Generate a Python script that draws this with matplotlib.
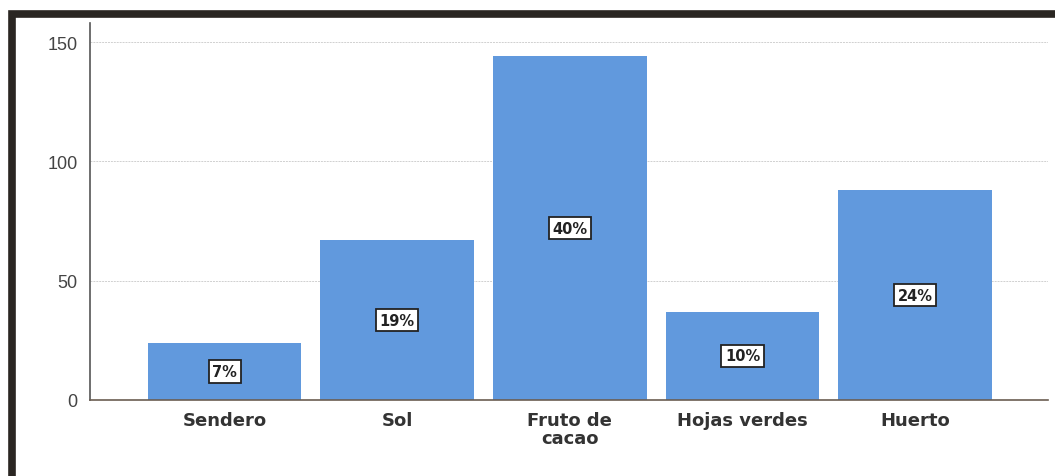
import matplotlib.pyplot as plt
from matplotlib.patches import Rectangle

categories = ["Sendero", "Sol", "Fruto de\ncacao", "Hojas verdes", "Huerto"]
counts = [24, 67, 144, 37, 88]
percent_labels = ["7%", "19%", "40%", "10%", "24%"]

plt.rcParams['font.family'] = ['DejaVu Sans']

fig = plt.figure(figsize=(10.55, 4.77), dpi=100)
fig.patch.set_facecolor("white")

# dark frame of the scanned output
fig.patches.append(Rectangle((11.5 / 1055, -0.05), 1.1, 1 - 14.5 / 477 + 0.05,
                             transform=fig.transFigure, fill=False,
                             edgecolor="#2a2622", linewidth=5.5))

ax = fig.add_axes([90 / 1055, 1 - 401 / 477, (1048 - 90) / 1055, (401 - 24) / 477])
ax.set_facecolor("white")

x = range(len(categories))
bars = ax.bar(x, counts, width=0.89, color="#6199dd", zorder=2)

for b, lab in zip(bars, percent_labels):
    ax.text(b.get_x() + b.get_width() / 2, b.get_height() / 2, lab,
            ha="center", va="center", fontsize=10.5, fontweight="bold",
            color="#222222", zorder=3,
            bbox=dict(boxstyle="square,pad=0.25", facecolor="white",
                      edgecolor="#222222", linewidth=1.3))

ax.set_xlim(-0.78, 4.77)
ax.set_ylim(0, 158)
ax.set_yticks([0, 50, 100, 150])
ax.set_xticks(list(x))
ax.set_xticklabels(categories, fontsize=13, fontweight="bold", color="#333333",
                   linespacing=1.0)
ax.tick_params(axis="y", labelsize=12, colors="#444444", length=0, pad=9)
for t in ax.get_yticklabels():
    t.set_family(['Liberation Sans'])
    t.set_fontsize(13)
ax.tick_params(axis="x", length=0, pad=8)
ax.yaxis.grid(True, color="#d0d0d0", linewidth=0.7, linestyle=(0, (2, 1)), zorder=0)

for s in ["top", "right"]:
    ax.spines[s].set_visible(False)
ax.spines["left"].set_color("#555555")
ax.spines["bottom"].set_color("#6b5e52")
ax.spines["left"].set_linewidth(1.2)
ax.spines["bottom"].set_linewidth(1.2)

fig.savefig("out.png", dpi=100)
